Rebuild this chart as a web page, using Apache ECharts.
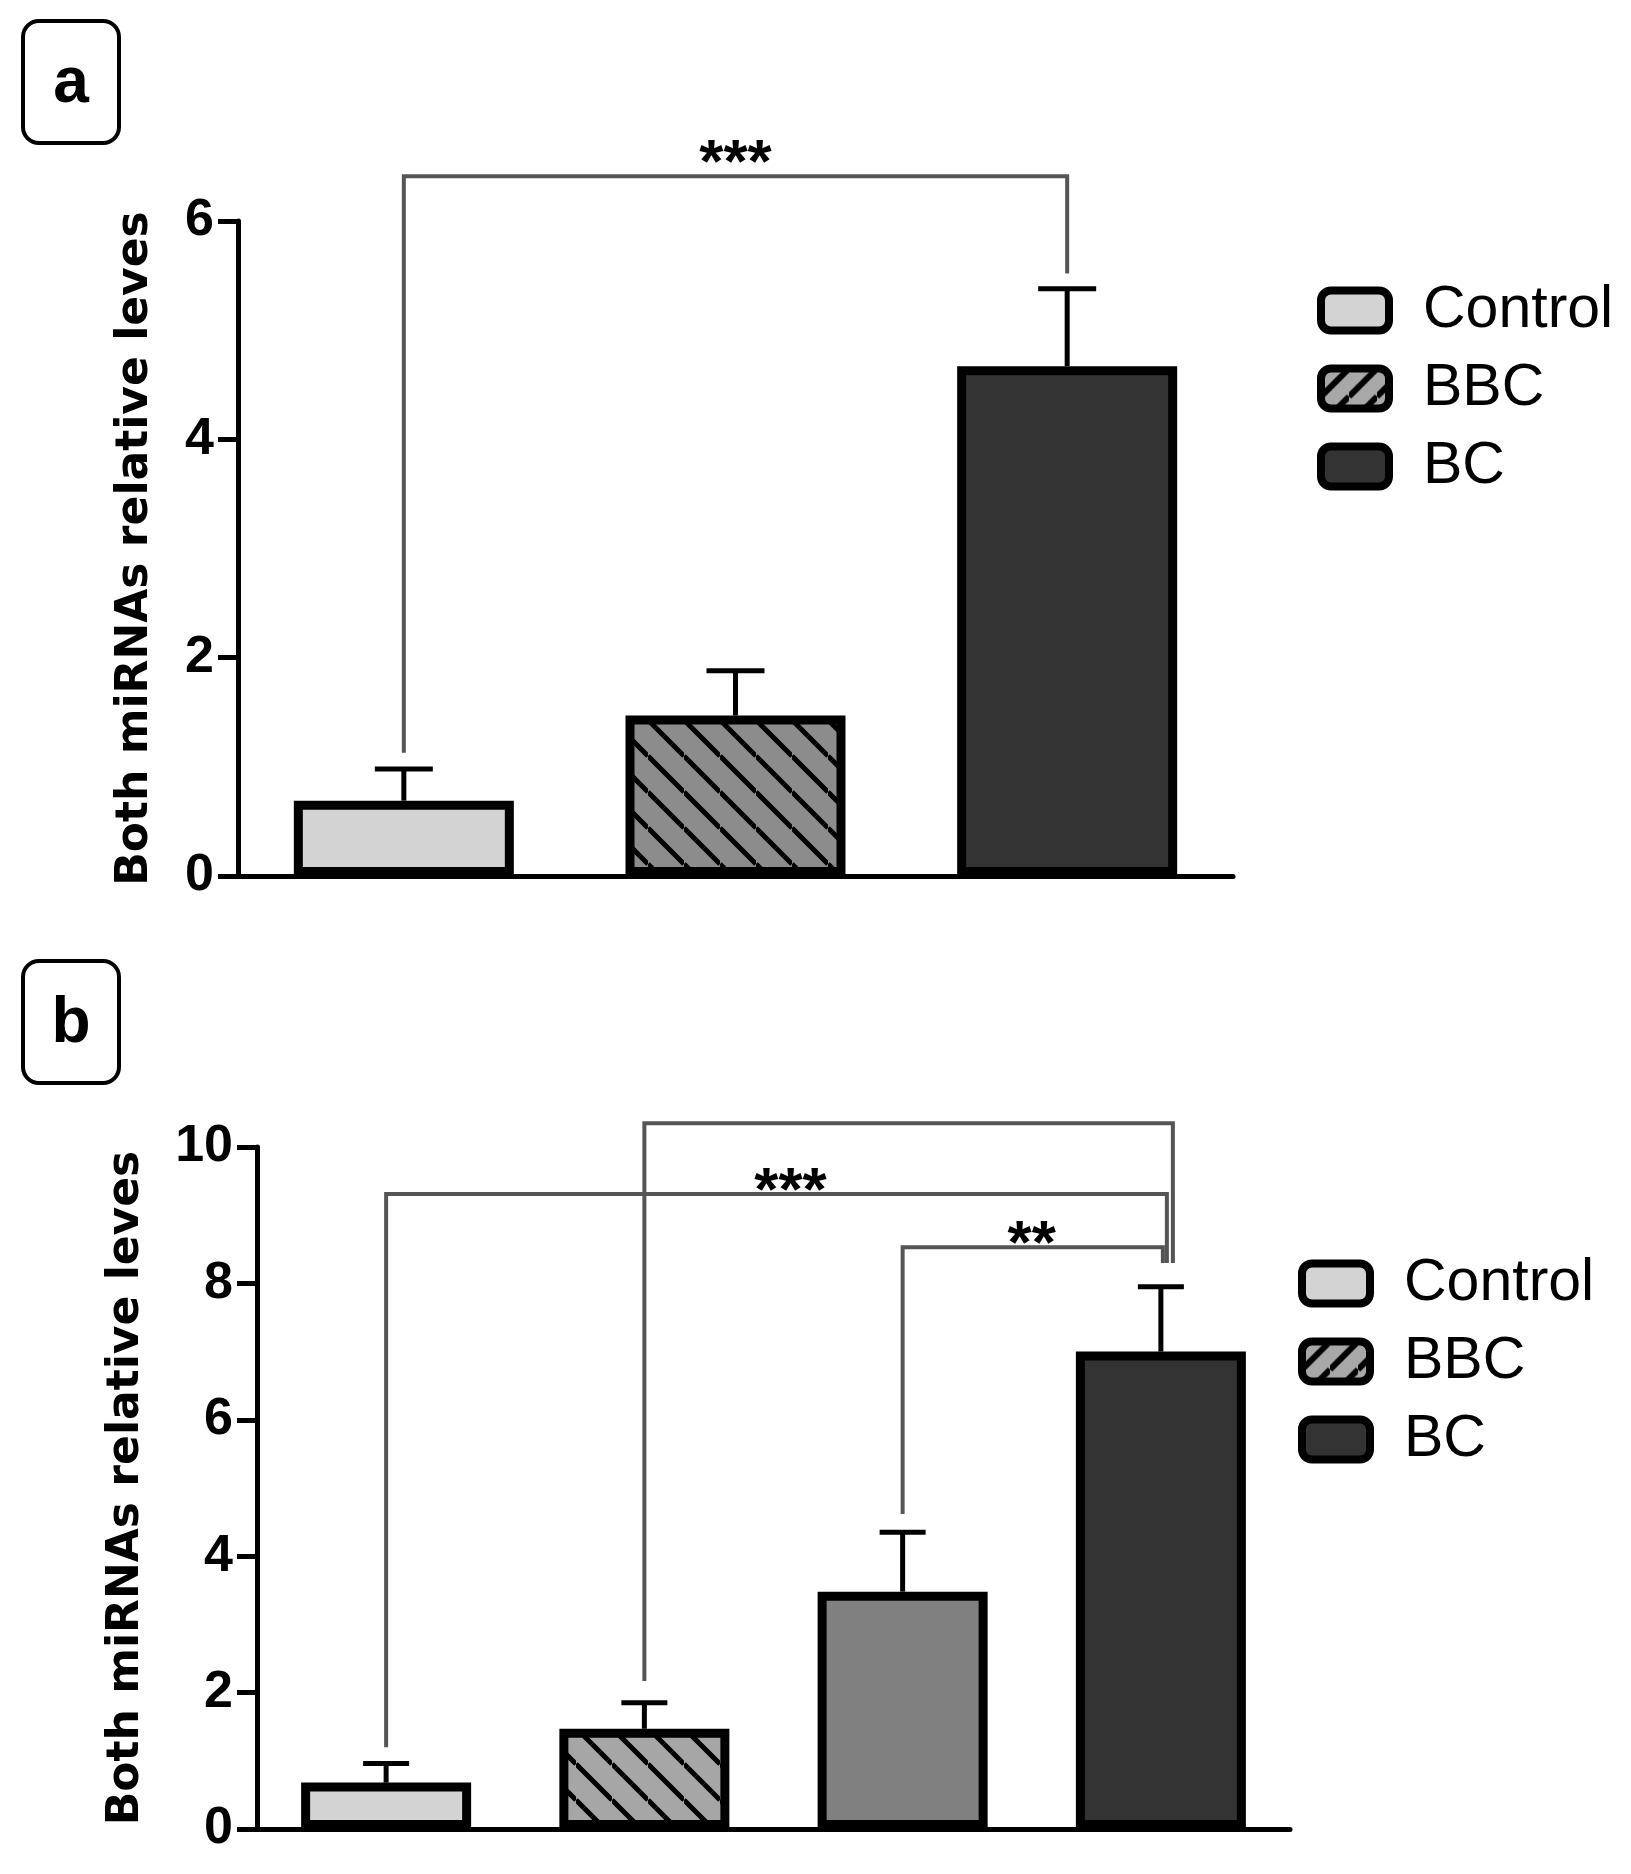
<!DOCTYPE html>
<html>
<head>
    <meta charset="UTF-8">
    <title>Both miRNAs relative leves</title>
    <style type="text/css">
        html, body { margin: 0; padding: 0; background: #fff; }
        #chart { width: 1631px; height: 1874px; }
    </style>
    <script type="text/javascript" src="https://cdn.jsdelivr.net/npm/echarts@6/dist/echarts.min.js"></script>
</head>
<body>
    <div id="chart"></div>
<script type="text/javascript">
// panel a
var catsA = ['Control', 'BBC', 'BC'];
var meanA = [0.69, 1.47, 4.67];
var errA  = [0.29, 0.41, 0.71];
// significance brackets: [from, to, level, left end, right end]
var bracketsA = [[0, 2, 6.41, 1.13, 5.52]];
var starsA = ['***'];

// panel b
var catsB = ['Control', 'BBC', 'Group 3', 'BC'];
var meanB = [0.68, 1.47, 3.48, 7.0];
var errB  = [0.28, 0.38, 0.87, 0.95];
var bracketsB = [[1, 3, 10.35, 2.17, 8.3], [0, 3, 9.31, 1.2, 8.3], [2, 3, 8.53, 4.62, 8.3]];
var starsB = ['', '***', '**'];

var yTicksA = { min: 0, max: 6, interval: 2 };
var yTicksB = { min: 0, max: 10, interval: 2 };

var legendNames = ['Control', 'BBC', 'BC'];

var chart = echarts.init(document.getElementById('chart'));

// hatch fill, dir 1 = "\" , dir -1 = "/"
function hatch(bg, step, lw, dir) {
    var c = document.createElement('canvas');
    c.width = step; c.height = step;
    var g = c.getContext('2d');
    g.fillStyle = bg;
    g.fillRect(0, 0, step, step);
    g.strokeStyle = '#000';
    g.lineWidth = lw;
    g.beginPath();
    for (var k = -1; k <= 2; k++) {
        if (dir > 0) { g.moveTo(0, k * step); g.lineTo(step, (k + 1) * step); }
        else { g.moveTo(0, k * step); g.lineTo(step, (k - 1) * step); }
    }
    g.stroke();
    return { image: c, repeat: 'repeat' };
}

var FONT = 'Liberation Sans, Arial, sans-serif';
var fillsA = ['#d3d3d3', hatch('#8c8c8c', 36, 5, 1), '#333333'];
var fillsB = ['#d3d3d3', hatch('#a6a6a6', 36, 5, 1), '#808080', '#333333'];
var legendFills = ['#d3d3d3', hatch('#a8a8a8', 28, 6, -1), '#333333'];

function barSeries(cats, mean, fills, idx, width) {
    return cats.map(function (name, i) {
        return {
            name: name, type: 'bar', xAxisIndex: idx, yAxisIndex: idx,
            barWidth: width, barGap: '-100%',
            itemStyle: { color: fills[i], borderColor: '#000', borderWidth: 9 },
            data: cats.map(function (c, j) { return j === i ? mean[j] : '-'; }),
            z: 2
        };
    });
}

function errSeries(mean, err, idx, capHalf) {
    return {
        type: 'custom', xAxisIndex: idx, yAxisIndex: idx, z: 3,
        data: mean.map(function (m, i) { return [i, m, err[i]]; }),
        renderItem: function (params, api) {
            var p0 = api.coord([api.value(0), api.value(1)]);
            var p1 = api.coord([api.value(0), api.value(1) + api.value(2)]);
            var st = { stroke: '#000', lineWidth: 5, fill: 'none' };
            return { type: 'group', children: [
                { type: 'line', shape: { x1: p0[0], y1: p0[1], x2: p1[0], y2: p1[1] }, style: st },
                { type: 'line', shape: { x1: p1[0] - capHalf, y1: p1[1], x2: p1[0] + capHalf, y2: p1[1] }, style: st }
            ]};
        }
    };
}

function bracketSeries(brackets, stars, idx, rightShift, labelShift, lift) {
    return {
        type: 'custom', xAxisIndex: idx, yAxisIndex: idx, z: 4, clip: false,
        data: brackets,
        renderItem: function (params, api) {
            var i = params.dataIndex;
            var a = api.coord([api.value(0), api.value(2)]);
            var b = api.coord([api.value(1), api.value(2)]);
            var aEnd = api.coord([api.value(0), api.value(3)]);
            var bEnd = api.coord([api.value(1), api.value(4)]);
            var dx = rightShift[i] || 0;
            var st = { stroke: '#555', lineWidth: 4, fill: 'none', lineJoin: 'miter' };
            var kids = [{ type: 'polyline', shape: { points: [
                [a[0], aEnd[1]], [a[0], a[1]], [b[0] + dx, b[1]], [b[0] + dx, bEnd[1]]
            ]}, style: st }];
            if (stars[i]) {
                kids.push({ type: 'text', style: {
                    text: stars[i], x: (a[0] + b[0]) / 2 + (labelShift[i] || 0), y: a[1] - lift,
                    align: 'center', verticalAlign: 'bottom',
                    font: 'bold 62px ' + FONT, fill: '#000'
                }});
            }
            return { type: 'group', children: kids };
        }
    };
}

function yAxis(t, idx, gap) {
    return {
        type: 'value', gridIndex: idx, min: t.min, max: t.max, interval: t.interval,
        name: 'Both miRNAs relative leves', nameLocation: 'middle', nameGap: gap,
        nameTextStyle: { fontFamily: 'DejaVu Sans', fontWeight: 'bold', fontSize: 44, color: '#000' },
        splitLine: { show: false },
        axisLine: { show: true, lineStyle: { color: '#000', width: 5 } },
        axisTick: { show: true, length: 20, lineStyle: { color: '#000', width: 5 } },
        axisLabel: { margin: 24, fontFamily: FONT, fontWeight: 'bold', fontSize: 52, color: '#000' }
    };
}

function xAxis(cats, idx) {
    return {
        type: 'category', gridIndex: idx, data: cats,
        axisLine: { lineStyle: { color: '#000', width: 5 } },
        axisTick: { alignWithLabel: true, length: 20, lineStyle: { color: '#000', width: 4 } },
        axisLabel: { show: false }
    };
}

function legend(left, top) {
    return {
        orient: 'vertical', left: left, top: top, padding: 0,
        itemWidth: 68, itemHeight: 40, itemGap: 19,
        icon: 'roundRect',
        itemStyle: { borderColor: '#000', borderWidth: 8 },
        textStyle: { fontFamily: FONT, fontSize: 59, color: '#000', lineHeight: 40, padding: [0, 0, 0, 29] },
        data: legendNames.map(function (n, i) {
            return { name: n, itemStyle: { color: legendFills[i], borderColor: '#000', borderWidth: 8 } };
        })
    };
}

function panelLabel(txt, x, y) {
    return { type: 'group', left: x, top: y, children: [
        { type: 'rect', shape: { x: 0, y: 0, width: 96, height: 122, r: 16 },
          style: { fill: '#fff', stroke: '#000', lineWidth: 4 } },
        { type: 'text', style: { text: txt, x: 48, y: 63, align: 'center', verticalAlign: 'middle',
          font: 'bold 64px ' + FONT, fill: '#000' } }
    ]};
}

var option = {
    animation: false,
    backgroundColor: '#fff',
    grid: [
        { left: 238, top: 221, width: 995, height: 655 },
        { left: 257, top: 1147, width: 1033, height: 682 }
    ],
    xAxis: [xAxis(catsA, 0), xAxis(catsB, 1)],
    yAxis: [yAxis(yTicksA, 0, 80), yAxis(yTicksB, 1, 108)],
    legend: [legend(1317, 281), legend(1298, 1254)],
    graphic: [panelLabel('a', 21, 19), panelLabel('b', 21, 959)],
    series: [].concat(
        barSeries(catsA, meanA, fillsA, 0, 220),
        [errSeries(meanA, errA, 0, 29), bracketSeries(bracketsA, starsA, 0, [0], [0], -20)],
        barSeries(catsB, meanB, fillsB, 1, 170),
        [errSeries(meanB, errB, 1, 23), bracketSeries(bracketsB, starsB, 1, [12, 6, 2], [0, 17, 0], -30)]
    )
};

chart.setOption(option);
</script>
</body>
</html>
